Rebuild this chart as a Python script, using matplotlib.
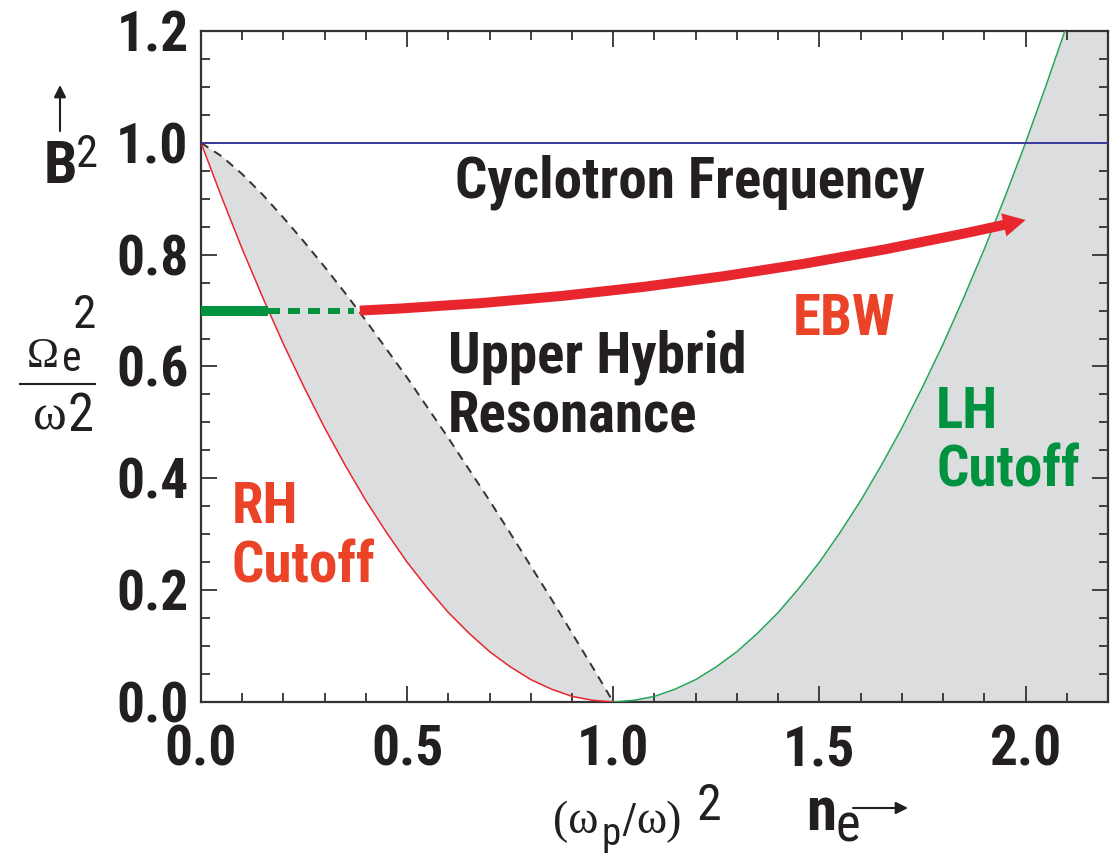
import matplotlib
matplotlib.use('Agg')
import matplotlib.pyplot as plt
from matplotlib import font_manager
from matplotlib.lines import Line2D
from matplotlib.ticker import MultipleLocator, FormatStrFormatter


def narrow_sans():
    """Pick a narrow sans face if one is installed, else plain Liberation Sans."""
    names = {f.name for f in font_manager.fontManager.ttflist}
    for cand in ('Liberation Sans Narrow', 'Roboto Condensed', 'Open Sans Condensed',
                 'Noto Sans Condensed', 'Arial Narrow'):
        if cand in names:
            return cand, 'normal', 1.0
    return 'Liberation Sans', 'normal', 0.84


SANS, STRETCH, K = narrow_sans()
SERIF = 'Liberation Serif'

# plasma density axis, (wp/w)^2
x_left = [0.0, 0.05, 0.10, 0.15, 0.20, 0.25, 0.30, 0.35, 0.40, 0.45, 0.50,
          0.55, 0.60, 0.65, 0.70, 0.75, 0.80, 0.85, 0.90, 0.95, 1.0]
rh_cutoff = [1.0, 0.903, 0.810, 0.723, 0.640, 0.563, 0.490, 0.423, 0.360, 0.303, 0.250,
             0.203, 0.160, 0.123, 0.090, 0.063, 0.040, 0.023, 0.010, 0.003, 0.0]
uh_resonance = [1.0, 0.976, 0.944, 0.907, 0.866, 0.823, 0.778, 0.731, 0.682, 0.631, 0.580,
                0.526, 0.472, 0.416, 0.360, 0.302, 0.243, 0.184, 0.123, 0.062, 0.0]

x_right = [1.0, 1.05, 1.10, 1.15, 1.20, 1.25, 1.30, 1.35, 1.40, 1.45, 1.50, 1.55,
           1.60, 1.65, 1.70, 1.75, 1.80, 1.85, 1.90, 1.95, 2.0, 2.05, 2.10]
lh_cutoff = [0.0, 0.003, 0.010, 0.023, 0.040, 0.063, 0.090, 0.123, 0.160, 0.203, 0.250, 0.303,
             0.360, 0.423, 0.490, 0.563, 0.640, 0.723, 0.810, 0.903, 1.0, 1.103, 1.210]

cyclotron = 1.0
launch_level = 0.70
o_mode_x = [0.0, 0.163]
x_mode_x = [0.163, 0.37]
ebw_start = (0.385, 0.700)
ebw_end = (2.0, 0.862)

RED = '#e8262d'
RED_TEXT = '#ea4327'
GREEN = '#00923f'
GREEN_LINE = '#26a55a'
BLUE = '#3a3a9e'
GRAY = '#dcdddf'
INK = '#231f20'

W, H = 1113, 859
fig = plt.figure(figsize=(W / 100, H / 100), dpi=100)
ax = fig.add_axes([0.1806, 0.1828, 0.8149, 0.7811])


def px(x, y):
    return x / W, 1 - y / H


def sans(size, weight='bold'):
    return dict(fontsize=size * K, fontweight=weight, family=SANS, fontstretch=STRETCH)


# shaded evanescent regions
ax.fill_between(x_left, rh_cutoff, uh_resonance, color=GRAY, lw=0, zorder=1)
ax.fill_betweenx(lh_cutoff, x_right, 2.2, color=GRAY, lw=0, zorder=1)

ax.plot(x_left, rh_cutoff, color=RED, lw=1.1, zorder=3)
ax.plot(x_right, lh_cutoff, color=GREEN_LINE, lw=1.1, zorder=3)
ax.plot(x_left, uh_resonance, color='#333333', lw=1.4, dashes=(4.5, 3.5), zorder=3)
ax.axhline(cyclotron, color=BLUE, lw=1.4, zorder=3)

# launched wave: O-mode, slow X-mode, then the EBW
ax.plot(o_mode_x, [launch_level] * 2, color=GREEN, lw=7.2, solid_capstyle='butt', zorder=4)
ax.plot(x_mode_x, [launch_level] * 2, color=GREEN, lw=4.3, dashes=(2, 1.35),
        dash_capstyle='butt', zorder=4)
ax.annotate('', xy=ebw_end, xytext=ebw_start,
            arrowprops=dict(arrowstyle='simple,head_length=0.8,head_width=0.85,tail_width=0.36',
                            connectionstyle='arc3,rad=0.045', color=RED, lw=0,
                            shrinkA=0, shrinkB=0, mutation_scale=20), zorder=5)

label_kw = dict(va='baseline', zorder=6, **sans(41))
ax.text(1.186, 0.903, 'Cyclotron Frequency', ha='center', color=INK, **label_kw)
ax.text(0.599, 0.589, 'Upper Hybrid', ha='left', color=INK, **label_kw)
ax.text(0.599, 0.483, 'Resonance', ha='left', color=INK, **label_kw)
ax.text(1.436, 0.657, 'EBW', ha='left', color=RED_TEXT, **label_kw)
ax.text(0.075, 0.320, 'RH', ha='left', color=RED_TEXT, **label_kw)
ax.text(0.075, 0.213, 'Cutoff', ha='left', color=RED_TEXT, **label_kw)
ax.text(1.783, 0.490, 'LH', ha='left', color=GREEN, **label_kw)
ax.text(1.783, 0.385, 'Cutoff', ha='left', color=GREEN, **label_kw)

ax.set_xlim(0, 2.2)
ax.set_ylim(0, 1.2)
ax.xaxis.set_major_locator(MultipleLocator(0.5))
ax.xaxis.set_minor_locator(MultipleLocator(0.1))
ax.yaxis.set_major_locator(MultipleLocator(0.2))
ax.yaxis.set_minor_locator(MultipleLocator(0.05))
ax.xaxis.set_major_formatter(FormatStrFormatter('%.1f'))
ax.yaxis.set_major_formatter(FormatStrFormatter('%.1f'))
ax.tick_params(which='both', direction='in', top=True, right=True,
               width=1.3, color='#333333')
ax.tick_params(which='major', length=11.5)
ax.tick_params(which='minor', length=6.5)
ax.tick_params(axis='y', pad=9)
ax.tick_params(axis='x', pad=16)
tick_font = sans(40)
for lab in ax.get_xticklabels() + ax.get_yticklabels():
    lab.set_fontsize(tick_font['fontsize'])
    lab.set_fontweight('bold')
    lab.set_family(SANS)
    lab.set_stretch(STRETCH)
    lab.set_color(INK)
for sp in ax.spines.values():
    sp.set_linewidth(1.6)
    sp.set_color('#333333')

# y-axis label: B^2 with arrow, and Omega_e^2 / omega^2
ax.annotate('', xy=(60, H - 85), xycoords='figure pixels',
            xytext=(60, H - 131), textcoords='figure pixels',
            arrowprops=dict(arrowstyle='-|>', lw=1.5, color=INK, mutation_scale=18,
                            shrinkA=0, shrinkB=0), annotation_clip=False)
fig.text(*px(44, 183), 'B', color=INK, va='baseline', **sans(43))
fig.text(*px(76, 167), '2', color=INK, va='baseline', **sans(32, 'normal'))

fig.text(*px(27, 367), 'Ω', fontsize=31, family=SERIF, color=INK, va='baseline')
fig.text(*px(62, 371), 'e', color=INK, va='baseline', **sans(30, 'normal'))
fig.text(*px(73, 328), '2', color=INK, va='baseline', **sans(34, 'normal'))
fig.add_artist(Line2D([20 / W, 95 / W], [1 - 384 / H] * 2, lw=1.5, color=INK,
                      transform=fig.transFigure))
fig.text(*px(33, 430), 'ω', fontsize=37, family=SERIF, color=INK, va='baseline')
fig.text(*px(68, 431), '2', color=INK, va='baseline', **sans(38, 'normal'))

# x-axis label: (omega_p/omega)^2 and n_e with arrow
fig.text(*px(553, 833), '(ω', fontsize=33, family=SERIF, color=INK, va='baseline')
fig.text(*px(602, 845), 'p', color=INK, va='baseline', **sans(28, 'normal'))
fig.text(*px(621, 833), '/', color=INK, va='baseline', **sans(30, 'normal'))
fig.text(*px(636, 833), 'ω)', fontsize=33, family=SERIF, color=INK, va='baseline')
fig.text(*px(697, 820), '2', color=INK, va='baseline', **sans(36, 'normal'))
fig.text(*px(806, 830), 'n', color=INK, va='baseline', **sans(44))
fig.text(*px(835, 841), 'e', color=INK, va='baseline', **sans(38, 'normal'))
ax.annotate('', xy=(908, H - 808), xycoords='figure pixels',
            xytext=(853, H - 808), textcoords='figure pixels',
            arrowprops=dict(arrowstyle='-|>', lw=1.5, color=INK, mutation_scale=18,
                            shrinkA=0, shrinkB=0), annotation_clip=False)

fig.savefig('out.png', dpi=100)
